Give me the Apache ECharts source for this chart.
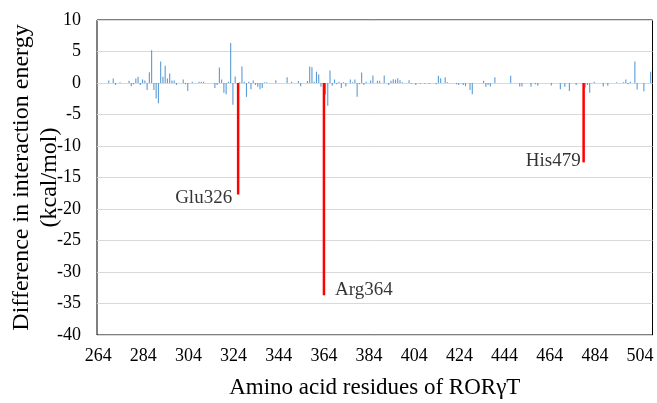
<!DOCTYPE html>
<html>
<head>
<meta charset="utf-8">
<script src="https://cdn.jsdelivr.net/npm/echarts@6/dist/echarts.min.js"></script>
<style>
  html, body { margin: 0; padding: 0; background: #fff; }
  #chart { width: 657px; height: 403px; }
</style>
</head>
<body>
<div id="chart"></div>
<script>
// residue range on the x axis
var firstResidue = 264;
var lastResidue = 509;
var tickStep = 20;

// residues with a visible difference (kcal/mol)
var residueIds = [
  269, 271, 272, 274, 278, 279, 280, 281, 282, 283, 284, 285, 286, 287, 288, 289,
  290, 291, 292, 293, 294, 295, 296, 297, 298, 299, 302, 303, 304, 306, 309, 310,
  311, 316, 317, 318, 319, 320, 321, 322, 323, 324, 325, 327, 328, 329, 330, 331,
  332, 333, 334, 335, 336, 337, 338, 339, 343, 348, 350, 353, 354, 357, 358, 359,
  360, 361, 362, 363, 365, 366, 367, 368, 369, 370, 371, 372, 373, 374, 376, 377,
  378, 379, 380, 381, 382, 383, 385, 386, 388, 389, 391, 393, 394, 395, 396, 397,
  398, 399, 402, 403, 405, 407, 409, 411, 414, 415, 416, 418, 419, 423, 424, 426,
  427, 429, 430, 435, 436, 437, 438, 440, 447, 451, 452, 456, 458, 459, 465, 469,
  471, 473, 476, 480, 481, 482, 484, 488, 490, 494, 497, 498, 499, 500, 502, 503,
  506, 509
];
var energyDiff = [
  0.4, 0.7, -0.3, 0.1, 0.35, -0.5, -0.2, 0.7, 1.0, -0.3, 0.55, 0.4, -1.1, 1.7, 5.2, -1.1,
  -2.45, -3.2, 3.4, 1.0, 2.75, 0.7, 1.5, 0.4, 0.4, -0.3, 0.55, -0.2, -1.25, 0.2, 0.2, 0.2,
  0.2, -0.8, -0.3, 2.45, 0.55, -1.55, -1.8, 0.2, 6.35, -3.45, 1.05, 0.1, 2.6, 0.2, -2.2, 0.2,
  -1.0, 0.4, -0.3, -0.6, -1.0, -0.8, 0.1, 0.1, 0.45, 0.9, 0.2, 0.3, -0.5, 0.3, 2.6, 2.5,
  0.2, 1.8, 1.35, -0.6, -1.8, -3.6, 2.0, -0.45, 0.55, -0.2, 0.2, -0.8, 0.1, -0.55, 0.55, 0.1,
  0.55, -2.2, -0.2, 1.65, -0.3, 0.2, 0.4, 1.2, 0.35, 0.35, 1.2, -0.3, 0.35, 0.6, 0.55, 0.75,
  0.45, 0.1, 0.45, -0.1, -0.3, -0.1, -0.1, -0.1, -0.2, 1.15, 0.75, 0.9, 0.1, -0.2, -0.3, -0.3,
  -0.5, -1.1, -1.8, 0.35, -0.6, -0.3, -0.55, 0.9, 1.15, -0.55, -0.55, -0.6, -0.2, -0.45, -0.4, -1.0,
  -0.6, -1.25, -0.3, -0.7, -0.3, -1.55, 0.2, -0.55, -0.45, 0.1, 0.1, 0.55, -0.2, 0.2, 3.4, -1.05,
  -1.3, 1.8
];

// key residues shown in red
var hotspotIds = [326, 364, 479];
var hotspotNames = ['Glu326', 'Arg364', 'His479'];
var hotspotValues = [-17.7, -33.7, -12.6];

var yMin = -40, yMax = 10, yStep = 5;

// build the category list and series arrays
var categories = [];
for (var r = firstResidue; r <= lastResidue; r++) categories.push(String(r));

var blueData = categories.map(function () { return 0; });
residueIds.forEach(function (id, i) { blueData[id - firstResidue] = energyDiff[i]; });

var redData = categories.map(function () { return null; });
hotspotIds.forEach(function (id, i) {
  redData[id - firstResidue] = hotspotValues[i];
  blueData[id - firstResidue] = null;
});

var labelPos = ['left', 'right', 'left'];
var labelOffset = [[-1, 4], [6, -5], [2, -1]];
var labelData = hotspotIds.map(function (id, i) {
  return {
    value: [String(id), hotspotValues[i]],
    name: hotspotNames[i],
    label: { position: labelPos[i], offset: labelOffset[i] }
  };
});

var font = '"Liberation Serif", "Times New Roman", serif';

var myChart = echarts.init(document.getElementById('chart'));
var option = {
  animation: false,
  backgroundColor: '#fff',
  grid: {
    left: 97, right: 4.5, top: 20, bottom: 68,
    outerBoundsMode: 'none',
    containLabel: false,
    show: true, borderColor: '#000', borderWidth: 1, backgroundColor: 'transparent'
  },
  xAxis: {
    type: 'category',
    data: categories,
    boundaryGap: true,
    name: 'Amino acid residues of RORγT',
    nameLocation: 'middle',
    nameGap: 41,
    nameMoveOverlap: false,
    nameTextStyle: { fontFamily: font, fontSize: 23, color: '#000' },
    axisLine: { show: false, onZero: false },
    axisTick: { show: false },
    axisLabel: {
      interval: tickStep - 1,
      margin: 12,
      fontFamily: font, fontSize: 18, color: '#000'
    },
    splitLine: { show: false }
  },
  yAxis: {
    type: 'value',
    min: yMin, max: yMax, interval: yStep,
    name: 'Difference in interaction energy\n(kcal/mol)',
    nameLocation: 'middle',
    nameGap: 33,
    nameMoveOverlap: false,
    nameTextStyle: { fontFamily: font, fontSize: 24, color: '#000', lineHeight: 28 },
    axisLine: { show: false },
    axisTick: { show: false },
    axisLabel: { margin: 16, fontFamily: font, fontSize: 18, color: '#000' },
    splitLine: { lineStyle: { color: '#d9d9d9', width: 1 } }
  },
  series: [
    {
      name: 'residues',
      type: 'bar',
      data: blueData,
      barWidth: 1.1,
      barGap: '-100%',
      itemStyle: { color: '#5b9bd5' }
    },
    {
      name: 'hotspots',
      type: 'bar',
      data: redData,
      barWidth: 2.5,
      barGap: '-100%',
      itemStyle: { color: '#ff0000' }
    },
    {
      name: 'labels',
      type: 'scatter',
      data: labelData,
      symbolSize: 0,
      silent: true,
      label: {
        show: true,
        formatter: '{b}',
        distance: 5,
        fontFamily: font, fontSize: 19, color: '#000'
      }
    }
  ]
};
myChart.setOption(option);
</script>
</body>
</html>
